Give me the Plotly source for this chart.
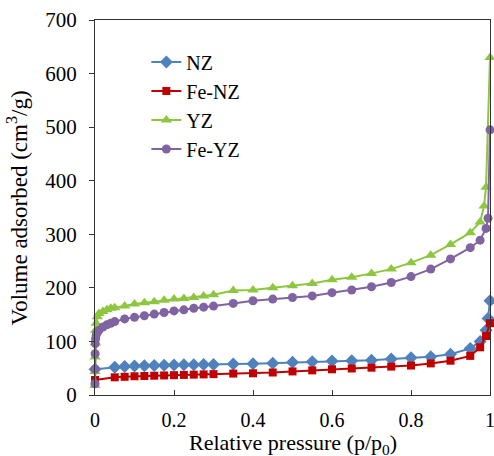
import plotly.graph_objects as go

# ---- data ----
x_nz = [0.0001, 0.05, 0.075, 0.1, 0.125, 0.15, 0.175, 0.2, 0.225, 0.25, 0.275, 0.3, 0.35,
        0.4, 0.45, 0.5, 0.55, 0.6, 0.65, 0.7, 0.75, 0.8, 0.85, 0.9, 0.95, 0.975, 0.99, 0.995, 1.0]
y_nz = [48, 52, 53, 54, 54.5, 55, 55.5, 56, 56.3, 56.6, 57, 57, 58,
        58.5, 59.5, 61, 62, 63.5, 64, 65, 67, 69.5, 71.5, 76, 87, 100, 121, 143, 176]

x_fenz = [0.0001, 0.05, 0.075, 0.1, 0.125, 0.15, 0.175, 0.2, 0.225, 0.25, 0.275, 0.3, 0.35,
          0.4, 0.45, 0.5, 0.55, 0.6, 0.65, 0.7, 0.75, 0.8, 0.85, 0.9, 0.95, 0.975, 0.99, 1.0]
y_fenz = [28, 33, 34, 35, 35.5, 36, 36.5, 37, 37.5, 38, 38.5, 39, 40,
          40.5, 42, 44, 46, 48, 49.5, 51, 53, 55, 59, 64, 73, 89, 110, 134]

x_yz = [0.00001, 0.0001, 0.0003, 0.0007, 0.0015, 0.003, 0.006, 0.01, 0.02, 0.03, 0.04, 0.05,
        0.075, 0.1, 0.125, 0.15, 0.175, 0.2, 0.225, 0.25, 0.275, 0.3, 0.35,
        0.4, 0.45, 0.5, 0.55, 0.6, 0.65, 0.7, 0.75, 0.8, 0.85, 0.9, 0.95, 0.975, 0.985, 0.99, 1.0]
y_yz = [18, 44, 71, 97, 121, 134, 146, 152, 156, 159, 162, 163,
        166, 170, 172, 174, 177, 179, 180, 182, 185, 187, 195,
        196, 200, 204, 208, 215, 220, 227, 235, 247, 261, 281, 303, 323, 353, 388, 630]

x_feyz = [0.00001, 0.0001, 0.0003, 0.0007, 0.0015, 0.003, 0.006, 0.01, 0.02, 0.03, 0.04, 0.05,
          0.075, 0.1, 0.125, 0.15, 0.175, 0.2, 0.225, 0.25, 0.275, 0.3, 0.35,
          0.4, 0.45, 0.5, 0.55, 0.6, 0.65, 0.7, 0.75, 0.8, 0.85, 0.9, 0.95, 0.975, 0.99, 0.995, 1.0]
y_feyz = [21, 48, 77, 96, 105, 112, 117, 121, 127, 131, 134, 137,
          142, 145, 148, 151, 154, 157, 159, 162, 164, 166, 171,
          176, 179, 182, 185, 191, 196, 202, 210, 221, 235, 254, 275, 289, 311, 330, 495]

x_ticks = [0, 0.2, 0.4, 0.6, 0.8, 1]
x_tick_labels = ["0", "0.2", "0.4", "0.6", "0.8", "1"]
y_ticks = [0, 100, 200, 300, 400, 500, 600, 700]

x_title = "Relative pressure (p/p<sub>0</sub>)"
y_title = "Volume adsorbed (cm<sup>3</sup>/g)"

FONT = "Liberation Serif"

fig = go.Figure()

series = [
    ("NZ", x_nz, y_nz, "#4F81BD", "diamond", 10),
    ("Fe-NZ", x_fenz, y_fenz, "#C00000", "square", 8),
    ("YZ", x_yz, y_yz, "#8DC63F", "triangle-up", 10),
    ("Fe-YZ", x_feyz, y_feyz, "#8064A2", "circle", 9),
]
for name, xs, ys, col, sym, sz in series:
    fig.add_trace(go.Scatter(
        x=xs, y=ys, name=name, mode="lines+markers",
        line=dict(color=col, width=2),
        marker=dict(symbol=sym, size=sz, color=col),
        cliponaxis=False,
    ))

# axis titles as paper-anchored annotations for precise placement
fig.add_annotation(text=x_title, xref="paper", yref="paper", x=0.5, y=-0.130,
                   xanchor="center", yanchor="middle", showarrow=False,
                   font=dict(family=FONT, size=22, color="black"))
fig.add_annotation(text=y_title, xref="paper", yref="paper", x=-0.195, y=0.5,
                   xanchor="center", yanchor="middle", showarrow=False, textangle=-90,
                   font=dict(family=FONT, size=23, color="black"))

fig.update_layout(
    width=494, height=456,
    margin=dict(l=95, r=4, t=20, b=61),
    paper_bgcolor="white", plot_bgcolor="white",
    font=dict(family=FONT, size=20, color="black"),
    showlegend=True,
    legend=dict(x=0.13, y=0.94, xanchor="left", yanchor="top",
                bgcolor="rgba(0,0,0,0)", font=dict(family=FONT, size=20),
                itemwidth=30, tracegroupgap=0),
    xaxis=dict(
        range=[0, 1], tickvals=x_ticks, ticktext=x_tick_labels,
        ticks="inside", ticklen=5, tickcolor="#333",
        ticklabeloverflow="allow", ticklabelstandoff=7,
        automargin=False,
        showline=True, linecolor="#333", linewidth=1, mirror=True,
        showgrid=False, zeroline=False,
        tickfont=dict(family=FONT, size=20),
    ),
    yaxis=dict(
        range=[0, 700], tickvals=y_ticks,
        ticks="outside", ticklen=5, tickcolor="#333",
        ticklabelstandoff=8, automargin=False,
        showline=True, linecolor="#333", linewidth=1, mirror=True,
        showgrid=False, zeroline=False,
        tickfont=dict(family=FONT, size=21),
    ),
)

fig.write_html("out.html",
               config={"displayModeBar": False},
               post_script="document.body.style.margin='0';document.body.style.overflow='hidden';")
